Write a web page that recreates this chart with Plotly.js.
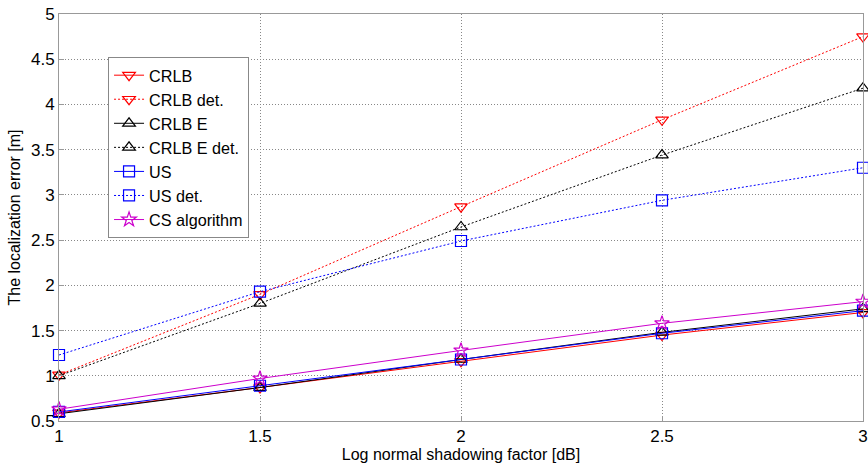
<!DOCTYPE html>
<html>
<head>
<meta charset="utf-8">
<script src="https://cdn.plot.ly/plotly-3.0.1.min.js"></script>
<style>
  html, body { margin: 0; padding: 0; background: #fff; }
  #chart { width: 868px; height: 464px; }
</style>
</head>
<body>
<div id="chart"></div>
<script>
// Shadowing factor (dB) on the x axis
const shadowing = [1, 1.5, 2, 2.5, 3];

// Localization error [m] per method
const crlb      = [0.59, 0.87, 1.16, 1.45, 1.70];
const crlbDet   = [1.01, 1.90, 2.87, 3.83, 4.75];
const crlbE     = [0.58, 0.87, 1.18, 1.48, 1.74];
const crlbEDet  = [1.00, 1.80, 2.645, 3.44, 4.18];
const us        = [0.60, 0.89, 1.18, 1.47, 1.72];
const usDet     = [1.23, 1.93, 2.49, 2.94, 3.30];
const csAlg     = [0.63, 0.97, 1.28, 1.58, 1.82];

const seriesNames = ['CRLB', 'CRLB det.', 'CRLB E', 'CRLB E det.', 'US', 'US det.', 'CS algorithm'];

function trace(name, y, color, dash, symbol) {
  return {
    x: shadowing, y: y, name: name, type: 'scatter', mode: 'lines+markers',
    line: { color: color, width: 1, dash: dash },
    marker: { symbol: symbol, size: 11, color: color, line: { color: color, width: 1.2 } },
    cliponaxis: false
  };
}

const fine = '2px,2px';

const data = [
  trace(seriesNames[0], crlb,     '#ff0000', 'solid', 'triangle-down-open'),
  trace(seriesNames[1], crlbDet,  '#ff0000', fine,    'triangle-down-open'),
  trace(seriesNames[2], crlbE,    '#000000', 'solid', 'triangle-up-open'),
  trace(seriesNames[3], crlbEDet, '#000000', fine,    'triangle-up-open'),
  trace(seriesNames[4], us,       '#0000ff', 'solid', 'square-open'),
  trace(seriesNames[5], usDet,    '#0000ff', fine,    'square-open'),
  trace(seriesNames[6], csAlg,    '#cc00cc', 'solid', 'star-open')
];

const font = { family: 'Liberation Sans, Arial, sans-serif', size: 16, color: '#000' };

const layout = {
  width: 868, height: 464,
  margin: { l: 59, r: 5, t: 14, b: 43 },
  paper_bgcolor: '#fff', plot_bgcolor: '#fff',
  font: font,
  showlegend: true,
  legend: {
    x: 0.061, y: 0.894, xanchor: 'left', yanchor: 'top',
    bgcolor: '#fff', bordercolor: '#888', borderwidth: 1,
    font: { family: font.family, size: 16.2, color: '#000' },
    tracegroupgap: 0, itemwidth: 30
  },
  xaxis: {
    range: [1, 3], tickvals: [1, 1.5, 2, 2.5, 3], ticktext: ['1', '1.5', '2', '2.5', '3'],
    showgrid: true, gridcolor: '#888', griddash: '1px,2px', gridwidth: 1,
    zeroline: false, showline: true, linecolor: '#999', mirror: true,
    ticks: 'inside', ticklen: 5, tickcolor: '#999',
    tickfont: { family: font.family, size: 17, color: '#000' },
    title: { text: 'Log normal shadowing factor [dB]', standoff: 2, font: { family: font.family, size: 16 } }
  },
  yaxis: {
    range: [0.5, 5], tickvals: [0.5, 1, 1.5, 2, 2.5, 3, 3.5, 4, 4.5, 5],
    ticktext: ['0.5', '1', '1.5', '2', '2.5', '3', '3.5', '4', '4.5', '5'],
    showgrid: true, gridcolor: '#888', griddash: '1px,2px', gridwidth: 1,
    zeroline: false, showline: true, linecolor: '#999', mirror: true,
    ticks: 'inside', ticklen: 5, tickcolor: '#999',
    tickfont: { family: font.family, size: 17, color: '#000' },
    title: { text: 'The localization error [m]', standoff: 6, font: { family: font.family, size: 16 } }
  }
};

Plotly.newPlot('chart', data, layout, { displayModeBar: false, staticPlot: true });
</script>
</body>
</html>
